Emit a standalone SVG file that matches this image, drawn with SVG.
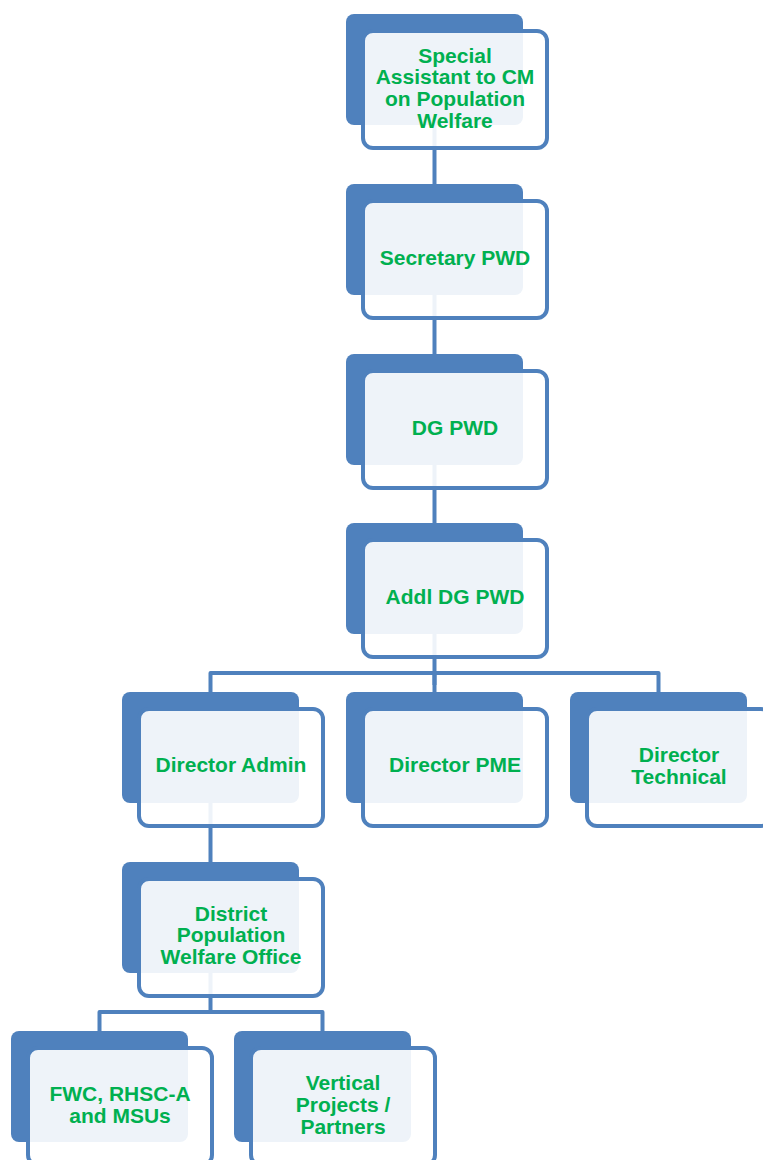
<svg xmlns="http://www.w3.org/2000/svg" width="763" height="1160" viewBox="0 0 763 1160">
<defs>
<style>
.back{fill:#4F81BD;}
.front{fill:#FFFFFF;fill-opacity:0.9;stroke:#4F81BD;stroke-width:4;}
.conn{fill:none;stroke:#4F81BD;stroke-width:4;stroke-linejoin:round;}
.lbl{font-family:"Liberation Sans",Arial,sans-serif;font-weight:bold;font-size:21px;fill:#00B050;text-anchor:middle;}
</style>
</defs>
<rect width="763" height="1160" fill="#FFFFFF"/>
<g id="connectors">
<path class="conn" d="M434.5 120 V190"/>
<path class="conn" d="M434.5 290 V360"/>
<path class="conn" d="M434.5 460 V530"/>
<path class="conn" d="M434.5 630 V685"/>
<path class="conn" d="M210.5 692 V673 H658.5 V692"/>
<path class="conn" d="M434.5 673 V692"/>
<path class="conn" d="M210.5 800 V868"/>
<path class="conn" d="M210.5 970 V1012"/>
<path class="conn" d="M99.5 1031 V1012 H322.5 V1031"/>
</g>
<g id="n1">
<rect class="back" x="346" y="14" width="177" height="111" rx="8"/>
<rect class="front" x="363" y="31" width="184" height="117" rx="10"/>
<text class="lbl" x="455" y="62.5">Special</text>
<text class="lbl" x="455" y="84.2">Assistant to CM</text>
<text class="lbl" x="455" y="105.9">on Population</text>
<text class="lbl" x="455" y="127.6">Welfare</text>
</g>
<g id="n2">
<rect class="back" x="346" y="184" width="177" height="111" rx="8"/>
<rect class="front" x="363" y="201" width="184" height="117" rx="10"/>
<text class="lbl" x="455" y="265">Secretary PWD</text>
</g>
<g id="n3">
<rect class="back" x="346" y="354" width="177" height="111" rx="8"/>
<rect class="front" x="363" y="371" width="184" height="117" rx="10"/>
<text class="lbl" x="455" y="435">DG PWD</text>
</g>
<g id="n4">
<rect class="back" x="346" y="523" width="177" height="111" rx="8"/>
<rect class="front" x="363" y="540" width="184" height="117" rx="10"/>
<text class="lbl" x="455" y="604">Addl DG PWD</text>
</g>
<g id="n5">
<rect class="back" x="122" y="692" width="177" height="111" rx="8"/>
<rect class="front" x="139" y="709" width="184" height="117" rx="10"/>
<text class="lbl" x="231" y="772">Director Admin</text>
</g>
<g id="n6">
<rect class="back" x="346" y="692" width="177" height="111" rx="8"/>
<rect class="front" x="363" y="709" width="184" height="117" rx="10"/>
<text class="lbl" x="455" y="772">Director PME</text>
</g>
<g id="n7">
<rect class="back" x="570" y="692" width="177" height="111" rx="8"/>
<rect class="front" x="587" y="709" width="184" height="117" rx="10"/>
<text class="lbl" x="679" y="762">Director</text>
<text class="lbl" x="679" y="784">Technical</text>
</g>
<g id="n8">
<rect class="back" x="122" y="862" width="177" height="111" rx="8"/>
<rect class="front" x="139" y="879" width="184" height="117" rx="10"/>
<text class="lbl" x="231" y="920.5">District</text>
<text class="lbl" x="231" y="942.2">Population</text>
<text class="lbl" x="231" y="963.9">Welfare Office</text>
</g>
<g id="n9">
<rect class="back" x="11" y="1031" width="177" height="111" rx="8"/>
<rect class="front" x="28" y="1048" width="184" height="117" rx="10"/>
<text class="lbl" x="120" y="1101">FWC, RHSC-A</text>
<text class="lbl" x="120" y="1123">and MSUs</text>
</g>
<g id="n10">
<rect class="back" x="234" y="1031" width="177" height="111" rx="8"/>
<rect class="front" x="251" y="1048" width="184" height="117" rx="10"/>
<text class="lbl" x="343" y="1090.3">Vertical</text>
<text class="lbl" x="343" y="1112">Projects /</text>
<text class="lbl" x="343" y="1133.7">Partners</text>
</g>
</svg>
